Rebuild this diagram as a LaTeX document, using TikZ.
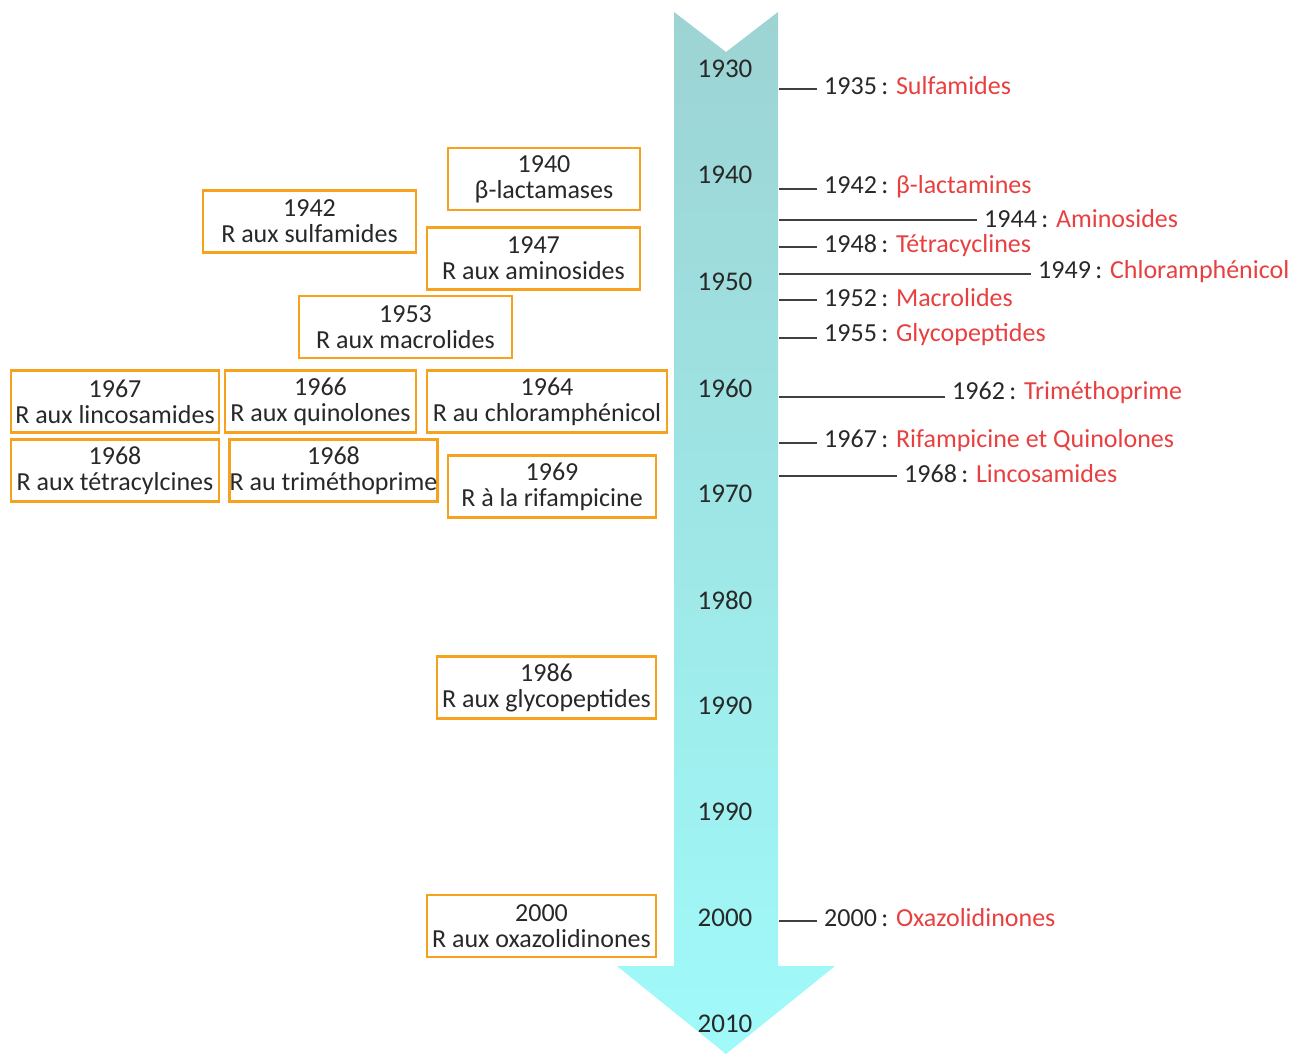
\documentclass[tikz,border=0pt]{standalone}
\usepackage{fontspec}
\setmainfont{Carlito}
\definecolor{boxorange}{RGB}{247,162,30}
\definecolor{abred}{RGB}{232,64,64}
\definecolor{yeartxt}{RGB}{40,40,40}
\definecolor{arrowtop}{RGB}{157,211,211}
\definecolor{arrowbot}{RGB}{160,250,250}
\tikzset{
  resbox/.style={draw=boxorange, line width=2.5pt, align=center, inner sep=0pt,
    minimum height=62pt, font=\fontsize{26}{26}\selectfont, text=yeartxt},
  decade/.style={font=\fontsize{27}{27}\selectfont, text=yeartxt},
  ablabel/.style={anchor=west, inner sep=7pt, font=\fontsize{26}{26}\selectfont, text=yeartxt},
  tick/.style={draw=black!75, line width=1.2pt}
}
\newcommand{\ab}[2]{#1\,: \textcolor{abred}{#2}}
\begin{document}
\begin{tikzpicture}[x=1pt, y=-1pt]
\useasboundingbox (0,0) rectangle (1303,1054);
% the time arrow
\shade[top color=arrowtop, bottom color=arrowbot]
  (674,12) -- (726,52) -- (778,12) -- (778,966) -- (835,966)
  -- (726,1054) -- (617,966) -- (674,966) -- cycle;
% decades
\node[decade] (d1930) at (725,69) {1930};
\node[decade] (d1940) at (725,175) {1940};
\node[decade] (d1950) at (725,282) {1950};
\node[decade] (d1960) at (725,388) {1960};
\node[decade] (d1970) at (725,494) {1970};
\node[decade] (d1980) at (725,600) {1980};
\node[decade] (d1990) at (725,706) {1990};
\node[decade] (d1990b) at (725,812) {1990};
\node[decade] (d2000) at (725,918) {2000};
\node[decade] (d2010) at (725,1024) {2010};

% antibiotics
\coordinate (c1935) at (779,89);
\coordinate (c1942) at (779,189);
\coordinate (c1944) at (779,220);
\coordinate (c1948) at (779,247);
\coordinate (c1949) at (779,274);
\coordinate (c1952) at (779,300);
\coordinate (c1955) at (779,338);
\coordinate (c1962) at (779,397);
\coordinate (c1967) at (779,443);
\coordinate (c1968) at (779,476);
\coordinate (c2000) at (779,921);
\node[ablabel] (sulf) at (817,86) {\ab{1935}{Sulfamides}};
\node[ablabel] (blact) at (817,187) {\ab{1942}{β-lactamines}};
\node[ablabel] (amino) at (977,219) {\ab{1944}{Aminosides}};
\node[ablabel] (tetra) at (817,246) {\ab{1948}{Tétracyclines}};
\node[ablabel] (chlor) at (1031,272) {\ab{1949}{Chloramphénicol}};
\node[ablabel] (macro) at (817,298) {\ab{1952}{Macrolides}};
\node[ablabel] (glyco) at (817,335) {\ab{1955}{Glycopeptides}};
\node[ablabel] (trim) at (945,393) {\ab{1962}{Triméthoprime}};
\node[ablabel] (rifa) at (817,441) {\ab{1967}{Rifampicine et Quinolones}};
\node[ablabel] (linco) at (897,474) {\ab{1968}{Lincosamides}};
\node[ablabel] (oxa) at (817,918) {\ab{2000}{Oxazolidinones}};
\draw[tick] (c1935) -- (c1935 -| sulf.west);
\draw[tick] (c1942) -- (c1942 -| blact.west);
\draw[tick] (c1944) -- (c1944 -| amino.west);
\draw[tick] (c1948) -- (c1948 -| tetra.west);
\draw[tick] (c1949) -- (c1949 -| chlor.west);
\draw[tick] (c1952) -- (c1952 -| macro.west);
\draw[tick] (c1955) -- (c1955 -| glyco.west);
\draw[tick] (c1962) -- (c1962 -| trim.west);
\draw[tick] (c1967) -- (c1967 -| rifa.west);
\draw[tick] (c1968) -- (c1968 -| linco.west);
\draw[tick] (c2000) -- (c2000 -| oxa.west);

% resistances
\node[resbox, minimum width=192pt] (rblact) at (544,179) {1940\\β-lactamases};
\node[resbox, minimum width=213pt] (rsulf) at (309.5,221.5) {1942\\R aux sulfamides};
\node[resbox, minimum width=213pt] (ramino) at (533.5,258.5) {1947\\R aux aminosides};
\node[resbox, minimum width=213pt] (rmacro) at (405.5,327) {1953\\R aux macrolides};
\node[resbox, minimum width=208pt] (rlinco) at (115,401.5) {1967\\R aux lincosamides};
\node[resbox, minimum width=191pt] (rquino) at (320.5,401.5) {1966\\R aux quinolones};
\node[resbox, minimum width=240pt] (rchlor) at (547,401.5) {1964\\R au chloramphénicol};
\node[resbox, minimum width=208pt] (rtetra) at (115,470.5) {1968\\R aux tétracylcines};
\node[resbox, minimum width=207pt] (rtrim) at (333.5,470.5) {1968\\R au triméthoprime};
\node[resbox, minimum width=208pt] (rrifa) at (552,486.5) {1969\\R à la rifampicine};
\node[resbox, minimum width=219pt] (rglyco) at (546.5,687.5) {1986\\R aux glycopeptides};
\node[resbox, minimum width=229pt] (roxa) at (541.5,926) {2000\\R aux oxazolidinones};
\end{tikzpicture}
\end{document}
